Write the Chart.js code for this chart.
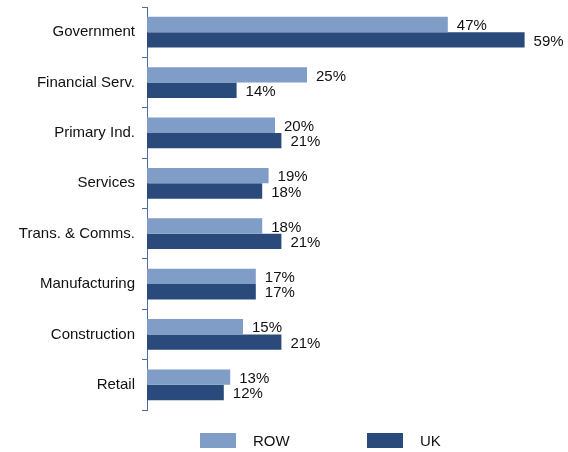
<!DOCTYPE html>
<html>
<head>
<meta charset="utf-8">
<script src="https://cdn.jsdelivr.net/npm/chart.js@4.4.0/dist/chart.umd.min.js"></script>
<style>
  html, body { margin: 0; padding: 0; background: #ffffff; }
  #sector-chart { display: block; }
</style>
</head>
<body>
<canvas id="sector-chart" width="568" height="452"></canvas>
<script>
// --- 1. Data ---
const sectors = [
  "Government", "Financial Serv.", "Primary Ind.", "Services",
  "Trans. & Comms.", "Manufacturing", "Construction", "Retail"
];
const rowShare = [47, 25, 20, 19, 18, 17, 15, 13];
const ukShare = [59, 14, 21, 18, 21, 17, 21, 12];

const ROW_COLOR = "#7f9dc6";
const UK_COLOR = "#2a4a7b";
const AXIS_COLOR = "#4f6d9c";
const FONT = "'Liberation Sans', Arial, Helvetica, sans-serif";

// --- 2. Plugins: value labels at bar ends + legend under the plot ---
const valueLabels = {
  id: "valueLabels",
  afterDatasetsDraw(chart) {
    const ctx = chart.ctx;
    ctx.save();
    ctx.font = "15px " + FONT;
    ctx.fillStyle = "#111111";
    ctx.textAlign = "left";
    ctx.textBaseline = "middle";
    chart.data.datasets.forEach((ds, i) => {
      chart.getDatasetMeta(i).data.forEach((bar, j) => {
        ctx.fillText(ds.data[j] + "%", bar.x + 9, bar.y + 1.5);
      });
    });
    ctx.restore();
  }
};

const bottomLegend = {
  id: "bottomLegend",
  afterDraw(chart) {
    const ctx = chart.ctx;
    const slots = [200, 367];
    ctx.save();
    ctx.font = "15px " + FONT;
    ctx.textBaseline = "middle";
    chart.data.datasets.forEach((ds, i) => {
      const x = slots[i];
      ctx.fillStyle = ds.backgroundColor;
      ctx.fillRect(x, 433, 36, 15);
      ctx.fillStyle = "#111111";
      ctx.fillText(ds.label, x + 53, 442);
    });
    ctx.restore();
  }
};

// --- 3. Chart ---
const ctx = document.getElementById("sector-chart").getContext("2d");

new Chart(ctx, {
  type: "bar",
  data: {
    labels: sectors,
    datasets: [
      { label: "ROW", data: rowShare, backgroundColor: ROW_COLOR },
      { label: "UK", data: ukShare, backgroundColor: UK_COLOR }
    ]
  },
  options: {
    indexAxis: "y",
    responsive: false,
    animation: false,
    categoryPercentage: 0.61,
    barPercentage: 1,
    layout: { padding: { top: 7, right: 5, bottom: 42, left: 0 } },
    plugins: {
      legend: { display: false },
      tooltip: { enabled: false }
    },
    scales: {
      x: {
        display: false,
        min: 0,
        max: 65
      },
      y: {
        afterFit(scale) {
          // fixed gutter for the category names, no extra label overhang
          scale.width = 147;
          scale.paddingTop = 0;
          scale.paddingBottom = 0;
        },
        border: { display: true, color: AXIS_COLOR, width: 1 },
        grid: {
          offset: true,
          drawOnChartArea: false,
          drawTicks: true,
          tickLength: 5,
          color: AXIS_COLOR
        },
        ticks: {
          padding: 7,
          color: "#111111",
          font: { family: FONT, size: 15 }
        }
      }
    }
  },
  plugins: [valueLabels, bottomLegend]
});
</script>
</body>
</html>
